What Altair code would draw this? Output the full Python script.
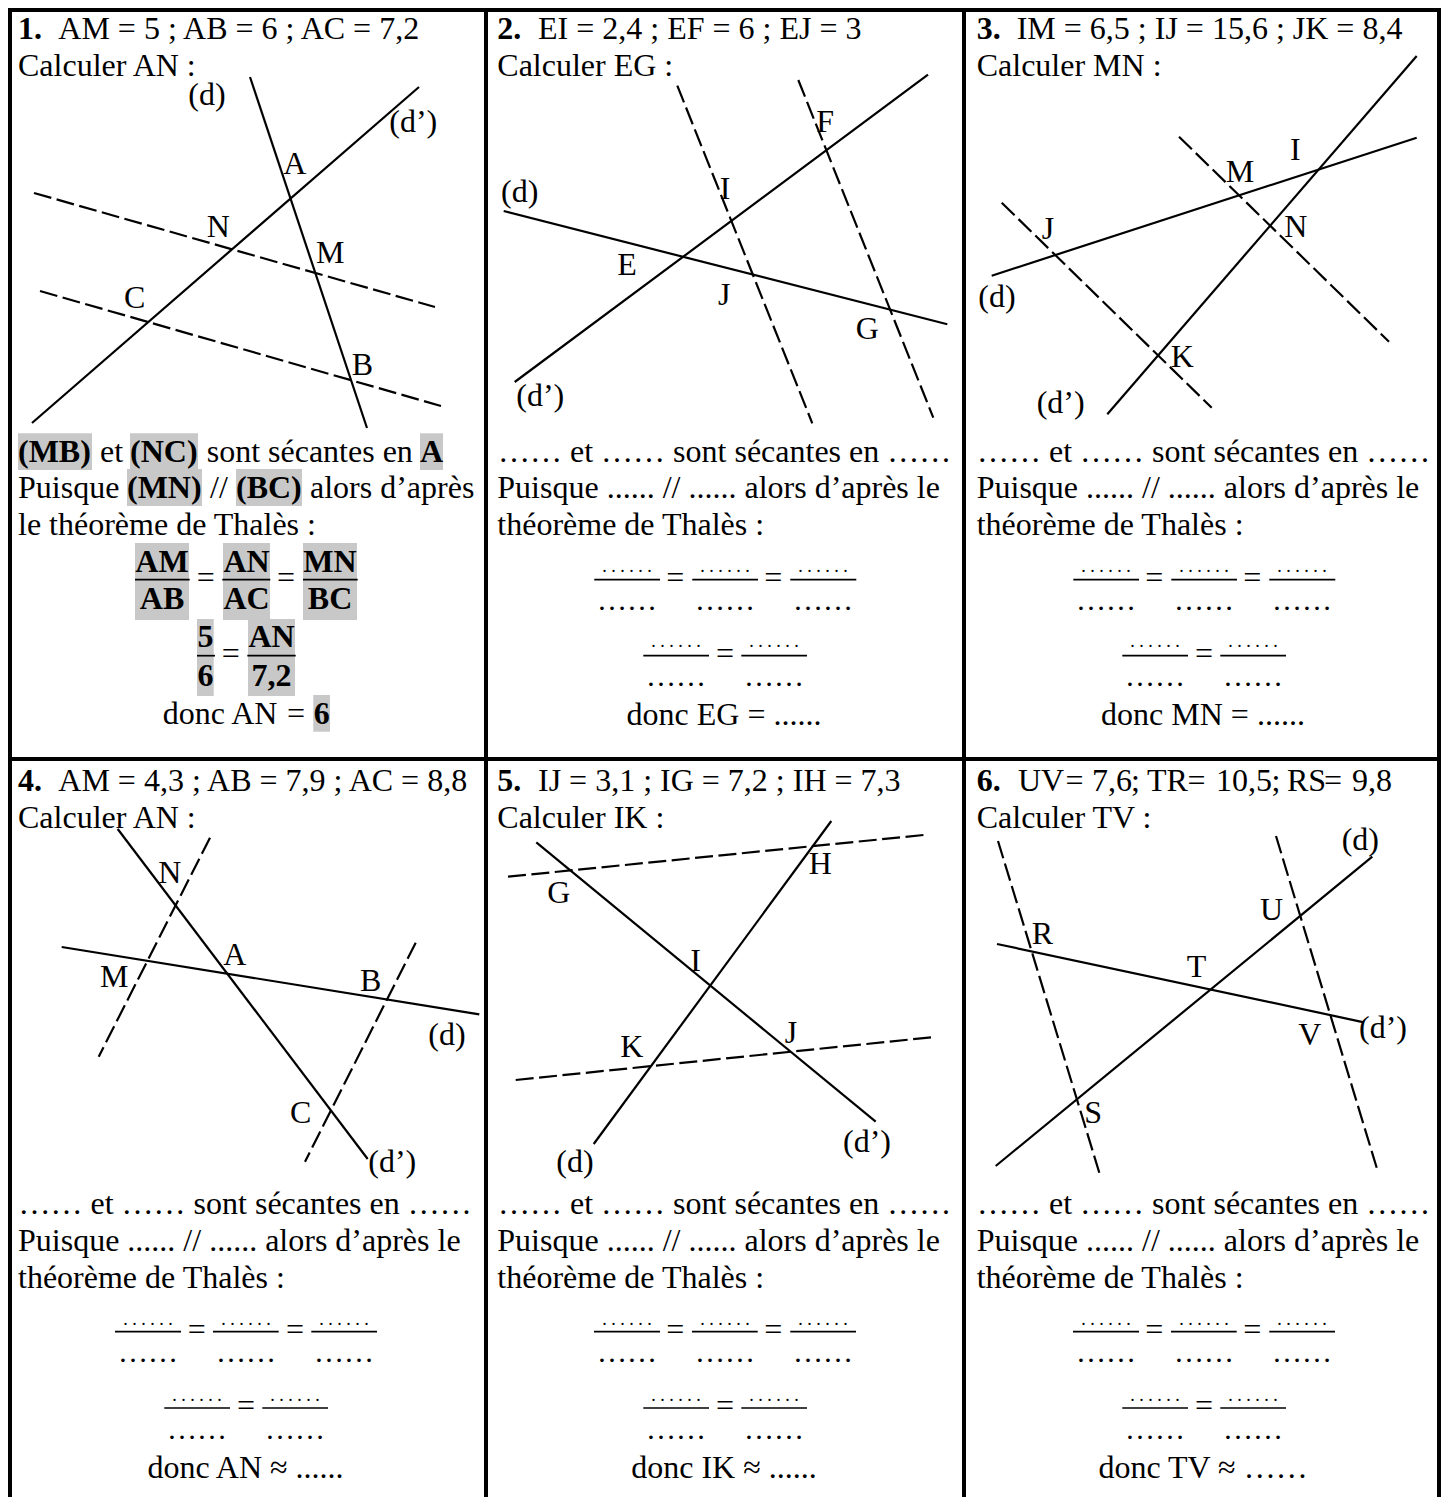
import altair as alt
import pandas as pd

FONT = "Liberation Serif"
SIZE = 32

# --- construction lines: x1, y1, x2, y2
solid_lines = [
    (250, 77, 367, 428), (419, 87, 32, 423),
    (503.7, 211, 947.3, 324.3), (928, 74.7, 514.7, 382),
    (991.7, 275.7, 1416.7, 137.7), (1416.7, 56, 1107.3, 414.3),
    (61.7, 947, 479.3, 1014.3), (117.7, 829, 367.7, 1159),
    (831.3, 821, 593.7, 1144), (536.3, 842.3, 875.7, 1121.7),
    (1372.3, 856.7, 995.7, 1166), (997, 944, 1364, 1022.3),
]
dashed_lines = [
    (34, 193, 435, 307), (40, 291, 441, 406),
    (677.3, 85.7, 812.3, 423.3), (798.3, 80, 933.3, 417.7),
    (1179, 136.7, 1389, 341.7), (1001.7, 202.7, 1211.7, 407.7),
    (210, 837.7, 98.7, 1056.7), (415.7, 942.7, 305, 1161.7),
    (508, 876.7, 923.7, 835), (515.7, 1080, 931.3, 1037.3),
    (998, 841, 1099.3, 1172.7), (1276, 836, 1376.7, 1167.7),
]
grid_lines = [
    (10, 10, 1439, 10), (10, 759, 1439, 759),
    (10, 8, 10, 1497), (486, 8, 486, 1497), (964, 8, 964, 1497), (1439, 8, 1439, 1497),
]
grey_boxes = [
    (18, 433.3, 92, 470), (130, 433.3, 198, 470), (420, 433.3, 443, 470),
    (127, 469, 202, 506), (236, 469, 302, 506),
    (135, 543, 189, 620), (223, 543, 270, 620), (303, 543, 357, 620),
    (197, 619, 213.7, 696), (248, 619, 295, 696),
    (313.3, 695, 330, 731.7),
]
fraction_bars = [
    (135, 579.7, 189.7), (222.3, 579.7, 270.3), (303, 579.7, 357.7),
    (197, 655.7, 215), (247.3, 655.7, 295.7),
    (594.3, 579.7, 660), (692.3, 579.7, 758), (790.3, 579.7, 856.3),
    (643.3, 655.7, 709), (741.3, 655.7, 807),
    (1073.3, 579.7, 1139), (1171.3, 579.7, 1237), (1269.3, 579.7, 1335.3),
    (1122.3, 655.7, 1188), (1220.3, 655.7, 1286),
    (115, 1331.7, 181), (213, 1331.7, 278.7), (311.3, 1331.7, 377),
    (164.3, 1408, 230), (262.3, 1408, 328),
    (594, 1331.7, 660), (692, 1331.7, 757.7), (790.3, 1331.7, 856),
    (643.3, 1408, 709), (741.3, 1408, 807),
    (1073, 1331.7, 1139), (1171, 1331.7, 1236.7), (1269.3, 1331.7, 1335),
    (1122.3, 1408, 1188), (1220.3, 1408, 1286),
]

# --- text, regular, anchored at its left end
headers_regular = [
    (58.3, 39, "AM = 5 ; AB = 6 ; AC = 7,2"),
    (538, 39, "EI = 2,4 ; EF = 6 ; EJ = 3"),
    (1016.7, 39, "IM = 6,5 ; IJ = 15,6 ; JK = 8,4"),
    (58.3, 791, "AM = 4,3 ; AB = 7,9 ; AC = 8,8"),
    (538, 791, "IJ = 3,1 ; IG = 7,2 ; IH = 7,3"),
    (1018, 791, "UV"), (1065.5, 791, "="), (1092, 791, "7,6"), (1131, 791, ";"),
    (1147, 791, "TR"), (1187.5, 791, "="), (1216, 791, "10,5"), (1271.5, 791, ";"),
    (1287, 791, "RS"), (1324, 791, "="), (1352, 791, "9,8"),
    (18, 76, "Calculer AN :"), (497.3, 76, "Calculer EG :"), (976.7, 76, "Calculer MN :"),
    (18, 828.3, "Calculer AN :"), (497.3, 828.3, "Calculer IK :"), (976.7, 828.3, "Calculer TV :"),
]
sentences = [
    (100, 461.7, "et"), (206.7, 461.7, "sont sécantes en"),
    (18, 498.3, "Puisque"), (210, 498.3, "//"), (310, 498.3, "alors d’après"),
    (18, 535, "le théorème de Thalès :"),
    (162.7, 724.3, "donc AN"),
    (498, 461.7, "…… et …… sont sécantes en ……"),
    (497.3, 498.3, "Puisque ...... // ...... alors d’après le"),
    (497.3, 535, "théorème de Thalès :"),
    (977, 461.7, "…… et …… sont sécantes en ……"),
    (976.7, 498.3, "Puisque ...... // ...... alors d’après le"),
    (976.7, 535, "théorème de Thalès :"),
    (18.5, 1214, "…… et …… sont sécantes en ……"),
    (18, 1251, "Puisque ...... // ...... alors d’après le"),
    (18, 1287.7, "théorème de Thalès :"),
    (498, 1214, "…… et …… sont sécantes en ……"),
    (497.3, 1251, "Puisque ...... // ...... alors d’après le"),
    (497.3, 1287.7, "théorème de Thalès :"),
    (977, 1214, "…… et …… sont sécantes en ……"),
    (976.7, 1251, "Puisque ...... // ...... alors d’après le"),
    (976.7, 1287.7, "théorème de Thalès :"),
]
point_labels = [
    (188.3, 105, "(d)"), (389.3, 131.7, "(d’)"), (283.3, 174, "A"), (206.7, 236.7, "N"),
    (316, 263.3, "M"), (124, 308.3, "C"), (351.7, 375, "B"),
    (501, 201.7, "(d)"), (516.3, 406, "(d’)"), (617.3, 275.3, "E"), (719.7, 198.7, "I"),
    (816.3, 131.7, "F"), (718, 305, "J"), (855.7, 339.3, "G"),
    (978.3, 306.7, "(d)"), (1036.7, 413.3, "(d’)"), (1290, 160, "I"), (1225.7, 181.7, "M"),
    (1041.7, 239.3, "J"), (1284.3, 237.3, "N"), (1170.7, 366.7, "K"),
    (158.3, 882.7, "N"), (100, 986.7, "M"), (223.3, 965, "A"), (360, 990.7, "B"),
    (428.3, 1045, "(d)"), (290, 1123.3, "C"), (368.3, 1171.7, "(d’)"),
    (808.7, 874, "H"), (547.3, 903.3, "G"), (690.3, 970.7, "I"), (784.7, 1043.3, "J"),
    (620.3, 1057.3, "K"), (556.3, 1171.7, "(d)"), (843, 1151.7, "(d’)"),
    (1341.7, 850, "(d)"), (1260, 920, "U"), (1031.7, 944, "R"), (1186.7, 977.3, "T"),
    (1298.3, 1045, "V"), (1359, 1038.3, "(d’)"), (1084.3, 1122.7, "S"),
]

# --- text, bold, anchored at its left end
bold_left = [
    (18, 39, "1."), (497.3, 39, "2."), (976.7, 39, "3."),
    (18, 791, "4."), (497.3, 791, "5."), (976.7, 791, "6."),
    (18, 461.7, "(MB)"), (130, 461.7, "(NC)"), (127, 498.3, "(MN)"), (236, 498.3, "(BC)"),
]
# --- text, bold, centred
bold_center = [
    (431.5, 461.7, "A"),
    (162, 571.7, "AM"), (246.5, 571.7, "AN"), (330, 571.7, "MN"),
    (162, 609.3, "AB"), (246.5, 609.3, "AC"), (330, 609.3, "BC"),
    (205.5, 646.7, "5"), (271.5, 646.7, "AN"),
    (205.5, 686, "6"), (271.5, 686, "7,2"),
    (321.7, 724.3, "6"),
]
# --- text, regular, centred
regular_center = [
    (296, 724.3, "="),
    (205.7, 587.7, "="), (286, 587.7, "="), (230.7, 664, "="),
    (675.3, 587.7, "="), (773.3, 587.7, "="), (725, 664, "="),
    (1154.3, 587.7, "="), (1252.3, 587.7, "="), (1204, 664, "="),
    (196.7, 1340, "="), (295, 1340, "="), (246, 1416, "="),
    (675.3, 1340, "="), (773.3, 1340, "="), (725, 1416, "="),
    (1154.3, 1340, "="), (1252.3, 1340, "="), (1204, 1416, "="),
    (724, 725, "donc EG = ......"), (1203, 725, "donc MN = ......"),
    (245.5, 1478.3, "donc AN ≈ ......"), (724, 1478.3, "donc IK ≈ ......"), (1203, 1478.3, "donc TV ≈ ……"),
]
denominator_dots = [
    (627, 610), (725, 610), (823, 610), (676, 686), (774, 686),
    (1106, 610), (1204, 610), (1302, 610), (1155, 686), (1253, 686),
    (148, 1362.3), (246, 1362.3), (344, 1362.3), (197, 1439), (295, 1439),
    (627, 1362.3), (725, 1362.3), (823, 1362.3), (676, 1439), (774, 1439),
    (1106, 1362.3), (1204, 1362.3), (1302, 1362.3), (1155, 1439), (1253, 1439),
]
numerator_dots = [
    (627, 571.7), (725, 571.7), (823, 571.7), (676, 647), (774, 647),
    (1106, 571.7), (1204, 571.7), (1302, 571.7), (1155, 647), (1253, 647),
    (148, 1325), (246, 1325), (344, 1325), (197, 1400.7), (295, 1400.7),
    (627, 1325), (725, 1325), (823, 1325), (676, 1400.7), (774, 1400.7),
    (1106, 1325), (1204, 1325), (1302, 1325), (1155, 1400.7), (1253, 1400.7),
]

sx = alt.Scale(domain=[8, 1441], nice=False, zero=False)
sy = alt.Scale(domain=[1497, 8], nice=False, zero=False)
X = alt.X("x:Q", scale=sx, axis=None, title=None)
Y = alt.Y("y:Q", scale=sy, axis=None, title=None)


def segs(rows):
    return pd.DataFrame(rows, columns=["x", "y", "x2", "y2"])


def texts(rows):
    return pd.DataFrame(rows, columns=["x", "y", "t"])


def rule(rows, **kw):
    return alt.Chart(segs(rows)).mark_rule(color="black", **kw).encode(
        x=X, y=Y, x2="x2:Q", y2="y2:Q")


def text(rows, align="left", weight="normal", size=SIZE):
    return alt.Chart(texts(rows)).mark_text(
        font=FONT, fontSize=size, fontWeight=weight, align=align,
        baseline="alphabetic", color="black").encode(x=X, y=Y, text="t:N")


boxes = alt.Chart(segs(grey_boxes)).mark_rect(color="#c8c8c8").encode(
    x=X, y=Y, x2="x2:Q", y2="y2:Q")
bars_df = pd.DataFrame(fraction_bars, columns=["x", "y", "x2"])
bars = alt.Chart(bars_df).mark_rule(color="black", strokeWidth=1.7).encode(x=X, y=Y, x2="x2:Q")

chart = alt.layer(
    boxes,
    text(headers_regular),
    text(sentences),
    text(point_labels),
    text(bold_left, weight="bold"),
    text(bold_center, align="center", weight="bold"),
    text(regular_center, align="center"),
    text([(a, b, ". . . . . .") for a, b in numerator_dots], align="center", size=18),
    text([(a, b, "……") for a, b in denominator_dots], align="center", size=30),
    bars,
    rule(solid_lines, strokeWidth=2.2),
    rule(dashed_lines, strokeWidth=2.2, strokeDash=[18, 5.5]),
    rule(grid_lines, strokeWidth=4),
).properties(
    width=1433, height=1489, padding=0, background="white",
    autosize=alt.AutoSizeParams(type="none"),
).configure_view(stroke=None)

chart.save("out.html", embed_options={"renderer": "svg", "actions": False})
